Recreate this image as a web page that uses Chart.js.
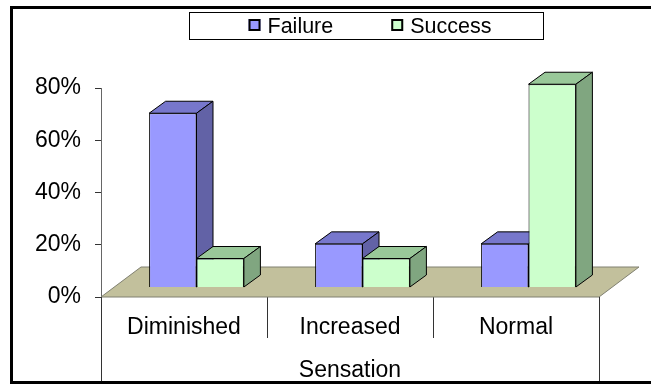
<!DOCTYPE html>
<html>
<head>
<meta charset="utf-8">
<script src="https://cdn.jsdelivr.net/npm/chart.js@4"></script>
<style>
  html, body { margin: 0; padding: 0; background: #fff; }
  canvas { display: block; }
</style>
</head>
<body>
<canvas id="mainChart" width="651" height="385"></canvas>
<script>
const categories = ['Diminished', 'Increased', 'Normal'];
const seriesNames = ['Failure', 'Success'];
const failure = [66.7, 16.7, 16.7];
const success = [11.1, 11.1, 77.8];
const yTicks = [0, 20, 40, 60, 80];
const axisTitle = 'Sensation';

const fontFamily = '"Liberation Sans", Arial, sans-serif';
const frontColors = ['#9999FF', '#CCFFCC'];
const topColors = ['#7777CC', '#99C899'];
const sideColors = ['#6262A6', '#80A680'];

// where the bars sit on the floor and how thick they are
const shift = { dx: 12.5, dy: -9.5 };
const depth = { dx: 16.5, dy: -12 };
const floorDepth = { dx: 40, dy: -30 };

const threeD = {
  id: 'threeD',
  beforeDraw(chart) {
    const ctx = chart.ctx;
    ctx.save();
    ctx.fillStyle = '#fff';
    ctx.fillRect(0, 0, chart.width, chart.height);
    ctx.restore();
  },
  beforeDatasetsDraw(chart) {
    const ctx = chart.ctx;
    const a = chart.chartArea;
    ctx.save();
    // floor
    ctx.beginPath();
    ctx.moveTo(a.left, a.bottom);
    ctx.lineTo(a.right, a.bottom);
    ctx.lineTo(a.right + floorDepth.dx, a.bottom + floorDepth.dy);
    ctx.lineTo(a.left + floorDepth.dx, a.bottom + floorDepth.dy);
    ctx.closePath();
    ctx.fillStyle = '#C2C09C';
    ctx.fill();
    ctx.strokeStyle = '#808070';
    ctx.lineWidth = 1;
    ctx.stroke();

    // top and side faces, left to right
    ctx.strokeStyle = '#000';
    for (let i = 0; i < categories.length; i++) {
      chart.data.datasets.forEach((ds, di) => {
        const el = chart.getDatasetMeta(di).data[i];
        const x0 = el.x - el.width / 2 + shift.dx;
        const x1 = el.x + el.width / 2 + shift.dx;
        const yt = el.y + shift.dy;
        const yb = el.base + shift.dy;
        ctx.beginPath();
        ctx.moveTo(x0, yt);
        ctx.lineTo(x0 + depth.dx, yt + depth.dy);
        ctx.lineTo(x1 + depth.dx, yt + depth.dy);
        ctx.lineTo(x1, yt);
        ctx.closePath();
        ctx.fillStyle = topColors[di];
        ctx.fill();
        ctx.stroke();
        ctx.beginPath();
        ctx.moveTo(x1, yt);
        ctx.lineTo(x1 + depth.dx, yt + depth.dy);
        ctx.lineTo(x1 + depth.dx, yb + depth.dy);
        ctx.lineTo(x1, yb);
        ctx.closePath();
        ctx.fillStyle = sideColors[di];
        ctx.fill();
        ctx.stroke();
      });
    }
    // front faces are drawn by chart.js, moved onto the floor
    ctx.translate(shift.dx, shift.dy);
  },
  afterDatasetsDraw(chart) {
    chart.ctx.restore();
  },
  afterDraw(chart) {
    const ctx = chart.ctx;
    const a = chart.chartArea;
    ctx.save();
    // outer category lines down to the frame
    ctx.strokeStyle = '#333';
    ctx.lineWidth = 1;
    ctx.beginPath();
    ctx.moveTo(Math.round(a.left) + 0.5, a.bottom);
    ctx.lineTo(Math.round(a.left) + 0.5, 382);
    ctx.moveTo(Math.round(a.right) + 0.5, a.bottom);
    ctx.lineTo(Math.round(a.right) + 0.5, 382);
    ctx.stroke();

    // legend
    ctx.strokeStyle = '#000';
    ctx.lineWidth = 1;
    ctx.strokeRect(189.5, 12.5, 354, 27);
    ctx.font = '21.5px ' + fontFamily;
    ctx.textBaseline = 'middle';
    const box = 12, gap = 7, itemGap = 58;
    const widths = seriesNames.map(n => ctx.measureText(n).width);
    const total = widths.reduce((s, w) => s + box + gap + w, 0) + itemGap * (seriesNames.length - 1);
    let x = 370 - total / 2;
    seriesNames.forEach((n, i) => {
      ctx.fillStyle = frontColors[i];
      ctx.fillRect(x, 19, box, box);
      ctx.lineWidth = 2;
      ctx.strokeStyle = '#000';
      ctx.strokeRect(x + 1, 20, box - 2, box - 2);
      ctx.fillStyle = '#000';
      ctx.fillText(n, x + box + gap, 27);
      x += box + gap + widths[i] + itemGap;
    });

    // frame
    ctx.lineWidth = 3;
    ctx.strokeStyle = '#000';
    ctx.beginPath();
    ctx.moveTo(651, 7.5);
    ctx.lineTo(11.5, 7.5);
    ctx.lineTo(11.5, 382.5);
    ctx.lineTo(651, 382.5);
    ctx.stroke();
    ctx.restore();
  }
};

const ctx = document.getElementById('mainChart').getContext('2d');
window.myChart = new Chart(ctx, {
  type: 'bar',
  data: {
    labels: categories,
    datasets: [
      { label: seriesNames[0], data: failure, backgroundColor: frontColors[0], borderColor: '#000', borderWidth: 1 },
      { label: seriesNames[1], data: success, backgroundColor: frontColors[1], borderColor: '#000', borderWidth: 1 }
    ]
  },
  options: {
    responsive: false,
    animation: false,
    layout: { padding: { left: 0, right: 52, top: 88, bottom: 0 } },
    datasets: { bar: { categoryPercentage: 0.571, barPercentage: 1 } },
    plugins: { legend: { display: false }, tooltip: { enabled: false } },
    scales: {
      x: {
        grid: { drawOnChartArea: false, drawTicks: true, tickLength: 41, offset: true, color: '#333' },
        border: { display: false },
        ticks: { font: { size: 23, family: fontFamily }, color: '#000', padding: -24, maxRotation: 0 },
        title: { display: true, text: axisTitle, font: { size: 23, family: fontFamily }, color: '#000', padding: { top: 0, bottom: 1 } },
        afterFit: s => { s.height = 88; }
      },
      y: {
        min: yTicks[0],
        max: yTicks[yTicks.length - 1],
        afterBuildTicks: s => { s.ticks = yTicks.map(v => ({ value: v })); },
        ticks: { callback: v => v + '%', font: { size: 23, family: fontFamily }, color: '#000', padding: 14 },
        grid: { drawOnChartArea: false, tickLength: 6, color: '#333' },
        border: { display: true, color: '#666' },
        afterFit: s => { s.width = 101; }
      }
    }
  },
  plugins: [threeD]
});
</script>
</body>
</html>
